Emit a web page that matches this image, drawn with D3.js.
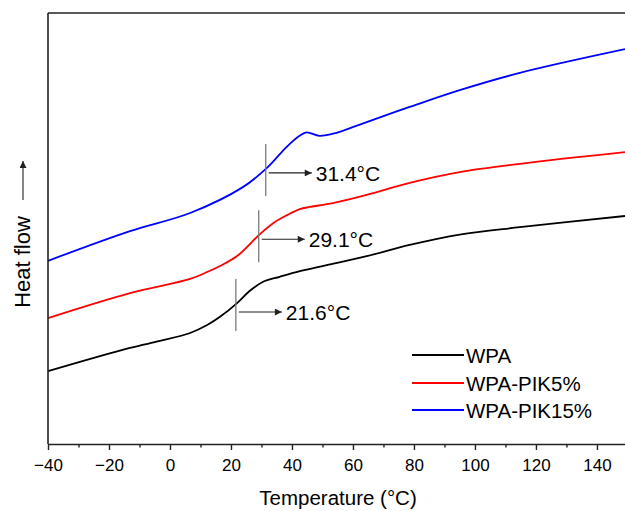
<!DOCTYPE html>
<html>
<head>
<meta charset="utf-8">
<script src="https://cdn.jsdelivr.net/npm/d3@7"></script>
<style>
  html, body { margin: 0; padding: 0; background: #ffffff; }
  svg { display: block; font-family: "Liberation Sans", Arial, sans-serif; }
</style>
</head>
<body>
<svg id="chart" width="625" height="511"></svg>
<script>
// DSC heating scans: temperature (°C) vs. heat flow (arbitrary units, offset per sample)
const seriesNames = ["WPA", "WPA-PIK5%", "WPA-PIK15%"];
const seriesColors = ["#000000", "#ff0000", "#0000ff"];

const wpaTemp = [-40, -13.1, -3.3, 6.6, 12.2, 16.4, 22.0, 26.1, 30.4, 36.0, 42.6, 51.4, 64.5, 78.6, 95.0, 114.7, 149.2];
const wpaFlow = [16.9, 22.3, 23.9, 25.75, 27.6, 29.5, 32.7, 35.5, 37.6, 38.8, 40.1, 41.5, 43.6, 46.2, 48.6, 50.3, 52.9];

const pik5Temp = [-40, -13.1, 6.6, 12.2, 16.4, 22.0, 29.5, 34.4, 38.4, 42.6, 45.9, 53.4, 64.5, 78.6, 95.0, 114.7, 149.2];
const pik5Flow = [29.2, 35.0, 38.3, 39.9, 41.3, 43.6, 48.7, 51.5, 53.1, 54.5, 55.0, 55.9, 57.8, 60.6, 63.1, 65.0, 67.7];

const pik15Temp = [-40, -13.1, 6.6, 23.9, 31.7, 38.2, 42.5, 44.8, 49.0, 54.6, 59.9, 64.5, 78.6, 95.0, 114.7, 149.2];
const pik15Flow = [42.5, 49.4, 53.6, 59.6, 64.0, 68.9, 71.5, 72.3, 71.5, 72.2, 73.5, 74.7, 78.2, 82.1, 86.1, 91.6];

// Glass transition temperatures marked on each curve
const tgValues = [21.6, 29.1, 31.4];

const xTickValues = [-40, -20, 0, 20, 40, 60, 80, 100, 120, 140];
const xMinorTickValues = [-30, -10, 10, 30, 50, 70, 90, 110, 130];

const svg = d3.select("#chart");
const plotLeft = 48, plotRight = 625, plotTop = 13, plotBottom = 444;

const x = d3.scaleLinear().domain([-40, 149.2]).range([plotLeft, plotRight]);
const y = d3.scaleLinear().domain([0, 100]).range([plotBottom, plotTop]);

const series = [
  { name: seriesNames[0], color: seriesColors[0], temp: wpaTemp, flow: wpaFlow, tg: tgValues[0] },
  { name: seriesNames[1], color: seriesColors[1], temp: pik5Temp, flow: pik5Flow, tg: tgValues[1] },
  { name: seriesNames[2], color: seriesColors[2], temp: pik15Temp, flow: pik15Flow, tg: tgValues[2] }
];

const line = d3.line()
  .x(d => x(d[0]))
  .y(d => y(d[1]))
  .curve(d3.curveCatmullRom.alpha(0.5));

// curves
series.forEach(s => {
  svg.append("path")
    .datum(s.temp.map((t, i) => [t, s.flow[i]]))
    .attr("fill", "none")
    .attr("stroke", s.color)
    .attr("stroke-width", 1.8)
    .attr("stroke-linejoin", "round")
    .attr("d", line);
});

// arrowhead marker
const defs = svg.append("defs");
defs.append("marker")
  .attr("id", "arrow")
  .attr("viewBox", "0 0 10 10")
  .attr("refX", 10).attr("refY", 5)
  .attr("markerWidth", 9).attr("markerHeight", 7)
  .attr("markerUnits", "userSpaceOnUse")
  .attr("orient", "auto")
  .append("path")
  .attr("d", "M0,0 L10,5 L0,10 z")
  .attr("fill", "#222");

// Tg markers: vertical tick through the curve, arrow and value label
function flowAt(s, t) {
  const i = d3.bisectRight(s.temp, t) - 1;
  const t0 = s.temp[i], t1 = s.temp[i + 1];
  const f = (t - t0) / (t1 - t0);
  return s.flow[i] + f * (s.flow[i + 1] - s.flow[i]);
}

const tgArrowOffsets = [8, 4, 4];   // arrow height below the crossing point (px)
series.forEach((s, k) => {
  const cx = x(s.tg);
  const cy = y(flowAt(s, s.tg));
  svg.append("line")
    .attr("x1", cx).attr("x2", cx)
    .attr("y1", cy - 25).attr("y2", cy + 27)
    .attr("stroke", "#7a7a7a").attr("stroke-width", 1.3);
  const ay = cy + tgArrowOffsets[k];
  svg.append("line")
    .attr("x1", cx + 3).attr("x2", cx + 46)
    .attr("y1", ay).attr("y2", ay)
    .attr("stroke", "#222").attr("stroke-width", 1.1)
    .attr("marker-end", "url(#arrow)");
  svg.append("text")
    .attr("x", cx + 50).attr("y", ay + 8)
    .attr("font-size", 21)
    .attr("fill", "#000")
    .text(s.tg.toFixed(1) + "°C");
});

// frame: top border and left axis line
svg.append("line")
  .attr("x1", plotLeft).attr("x2", plotRight).attr("y1", plotTop).attr("y2", plotTop)
  .attr("stroke", "#222").attr("stroke-width", 1.6);
svg.append("line")
  .attr("x1", plotLeft).attr("x2", plotLeft).attr("y1", plotTop).attr("y2", plotBottom)
  .attr("stroke", "#222").attr("stroke-width", 1.6);

// x axis with major and minor ticks
const xAxis = svg.append("g")
  .attr("transform", `translate(0,${plotBottom})`)
  .call(d3.axisBottom(x).tickValues(xTickValues).tickSize(6).tickSizeOuter(0).tickPadding(9).tickFormat(d3.format("d")));
xAxis.select(".domain").attr("stroke", "#222").attr("stroke-width", 1.6);
xAxis.selectAll(".tick line").attr("stroke", "#222").attr("stroke-width", 1.4);
xAxis.selectAll(".tick text").attr("font-size", 17).attr("fill", "#000")
  .attr("font-family", '"Liberation Sans", Arial, sans-serif');

const xMinor = svg.append("g")
  .attr("transform", `translate(0,${plotBottom})`)
  .call(d3.axisBottom(x).tickValues(xMinorTickValues).tickSize(3.5).tickFormat(""));
xMinor.select(".domain").remove();
xMinor.selectAll(".tick line").attr("stroke", "#222").attr("stroke-width", 1.4);

// axis titles
svg.append("text")
  .attr("x", 338).attr("y", 505)
  .attr("text-anchor", "middle")
  .attr("font-size", 20.5)
  .attr("fill", "#000")
  .text("Temperature (°C)");

svg.append("text")
  .attr("transform", "translate(30,262) rotate(-90)")
  .attr("text-anchor", "middle")
  .attr("font-size", 22)
  .attr("fill", "#000")
  .text("Heat flow");

svg.append("line")
  .attr("x1", 23).attr("x2", 23).attr("y1", 200).attr("y2", 161)
  .attr("stroke", "#222").attr("stroke-width", 1.1)
  .attr("marker-end", "url(#arrow)");

// legend
const legend = svg.append("g");
legend.append("rect")
  .attr("x", 405).attr("y", 337).attr("width", 195).attr("height", 86)
  .attr("fill", "#ffffff");
const legendY = [355, 383, 410];
series.forEach((s, i) => {
  legend.append("line")
    .attr("x1", 412).attr("x2", 464)
    .attr("y1", legendY[i]).attr("y2", legendY[i])
    .attr("stroke", s.color).attr("stroke-width", 1.8);
  legend.append("text")
    .attr("x", 466).attr("y", legendY[i] + 8)
    .attr("font-size", 20.5)
    .attr("fill", "#000")
    .text(s.name);
});
</script>
</body>
</html>
